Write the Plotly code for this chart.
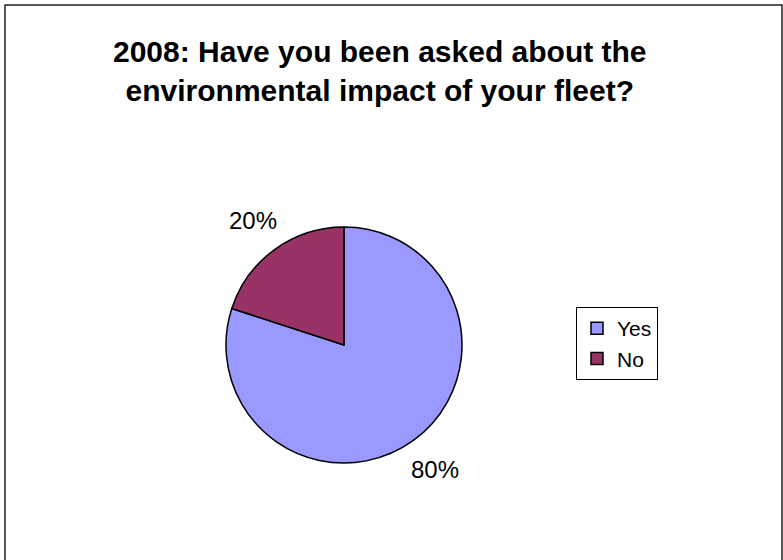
import math
import plotly.graph_objects as go

labels = ["Yes", "No"]
values = [80, 20]
colors = ["#9999FF", "#993366"]
title_lines = ["2008: Have you been asked about the", "environmental impact of your fleet?"]

W, H = 783, 560
cx, cy, r = 344, 345, 118

fig = go.Figure()
fig.add_trace(go.Pie(
    labels=labels, values=values, sort=False, direction="clockwise", rotation=0,
    marker=dict(colors=colors, line=dict(color="black", width=1.5)),
    textinfo="none", hoverinfo="label+percent",
    domain=dict(x=[(cx - r) / W, (cx + r) / W], y=[1 - (cy + r) / H, 1 - (cy - r) / H]),
))

# percentage labels placed outside along each slice's mid-angle
total = sum(values)
cum = 0
for v in values:
    mid = (cum + v / 2) / total * 2 * math.pi
    cum += v
    d = 154
    fig.add_annotation(
        x=(cx + d * math.sin(mid)) / W, y=1 - (cy - d * math.cos(mid)) / H,
        xref="paper", yref="paper", showarrow=False,
        xanchor="center", yanchor="middle",
        text=f"{round(v / total * 100)}%",
        font=dict(family="Liberation Sans, Arial", size=24, color="black"),
    )

fig.add_annotation(
    x=380 / W, y=1 - 33 / H, xref="paper", yref="paper", showarrow=False,
    xanchor="center", yanchor="top",
    text="<b>" + "<br>".join(title_lines) + "</b>",
    font=dict(family="Liberation Sans, Arial", size=30, color="black"),
)

fig.add_shape(type="rect", xref="paper", yref="paper",
              x0=5 / W, x1=782 / W, y0=-0.05, y1=1 - 5 / H,
              line=dict(color="#222222", width=1.5), fillcolor="rgba(0,0,0,0)")

fig.update_layout(
    width=W, height=H, margin=dict(l=0, r=0, t=0, b=0),
    paper_bgcolor="white", plot_bgcolor="white",
    showlegend=True,
    legend=dict(x=576 / W, y=1 - 307 / H, xanchor="left", yanchor="top",
                bordercolor="black", borderwidth=1, bgcolor="white",
                font=dict(family="Liberation Sans, Arial", size=21, color="black"),
                tracegroupgap=0, itemwidth=30),
)

fig.write_html("out.html", config={"displayModeBar": False},
               post_script="document.body.style.margin='0';")
